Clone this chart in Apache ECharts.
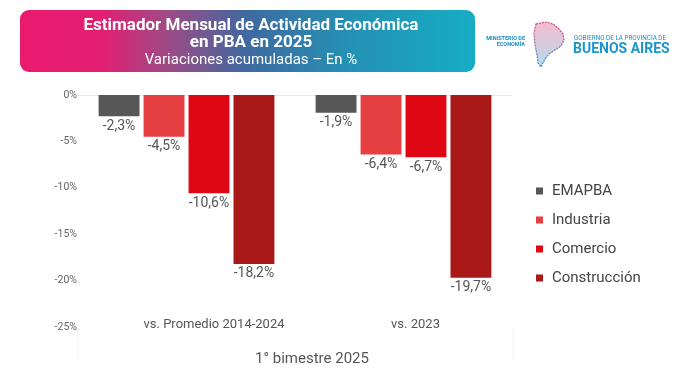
<!DOCTYPE html>
<html>
<head>
<meta charset="utf-8">
<script src="https://cdn.jsdelivr.net/npm/echarts@6/dist/echarts.min.js"></script>
<style>html,body{margin:0;padding:0;background:#fff}#c{width:680px;height:380px}</style>
</head>
<body>
<div id="c"></div>
<script>
var categories = ['vs. Promedio 2014-2024', 'vs. 2023'];
var seriesNames = ['EMAPBA', 'Industria', 'Comercio', 'Construcción'];
var emapba = [-2.3, -1.9];
var industria = [-4.5, -6.4];
var comercio = [-10.6, -6.7];
var construccion = [-18.2, -19.7];
var yTicks = [0, -5, -10, -15, -20, -25];

var colors = ['#575757', '#e63f41', '#e00715', '#a81917'];
var values = [emapba, industria, comercio, construccion];
var FONT = 'Roboto';

var chart = echarts.init(document.getElementById('c'), null, {renderer: 'canvas'});

function fmt(v) { return v.toFixed(1).replace('.', ',') + '%'; }

var series = seriesNames.map(function (n, i) {
  return {
    name: n,
    type: 'bar',
    data: values[i],
    barGap: '10%',
    barCategoryGap: '19%',
    itemStyle: {color: colors[i]},
    label: {
      show: true, position: 'bottom', distance: 3,
      color: '#555', fontSize: 14, fontFamily: FONT,
      formatter: function (p) { return fmt(p.value); }
    }
  };
});

var catPads = [[0, 0, 0, 55], [0, 0, 0, 24]];

chart.setOption({
  animation: false,
  backgroundColor: '#fff',
  grid: {left: 78, right: 168, top: 95, bottom: 53, containLabel: false},
  legend: {
    orient: 'vertical', left: 531, top: 178,
    icon: 'rect', itemWidth: 7, itemHeight: 7, itemGap: 13,
    textStyle: {color: '#444', fontSize: 15, fontFamily: FONT, lineHeight: 16, padding: [0, 0, 0, 4]},
    data: seriesNames
  },
  xAxis: [{
    type: 'category',
    data: categories.map(function (c, i) { return {value: c, textStyle: {padding: catPads[i]}}; }),
    position: 'bottom',
    axisLine: {show: false, onZero: false},
    axisTick: {show: false},
    axisLabel: {margin: -9, color: '#555', fontSize: 13, fontFamily: FONT}
  }, {
    type: 'category',
    data: categories,
    position: 'top',
    axisLine: {show: true, onZero: false, lineStyle: {color: '#e8e8e8', width: 1}},
    axisTick: {show: false},
    axisLabel: {show: false}
  }],
  yAxis: {
    type: 'value', min: -25, max: 0, interval: 5,
    axisLine: {show: false}, axisTick: {show: false},
    splitLine: {show: false},
    axisLabel: {
      margin: 1, color: '#666', fontSize: 10.5, fontFamily: FONT,
      formatter: function (v) { return yTicks.indexOf(v) >= 0 ? v + '%' : ''; }
    }
  },
  series: series,
  graphic: [
    {
      type: 'rect', shape: {x: 20, y: 10, width: 455, height: 62, r: 9},
      style: {fill: new echarts.graphic.LinearGradient(0, 0, 1, 0, [
        {offset: 0, color: '#ea1a6e'},
        {offset: 0.18, color: '#e21f72'},
        {offset: 0.32, color: '#a04a86'},
        {offset: 0.5, color: '#3e6aa0'},
        {offset: 0.72, color: '#2590b4'},
        {offset: 1, color: '#16adc4'}
      ])}
    },
    {type: 'text', x: 251, y: 26, style: {text: 'Estimador Mensual de Actividad Económica', fill: '#fff', font: 'bold 17px Roboto', align: 'center', verticalAlign: 'middle'}},
    {type: 'text', x: 251, y: 43, style: {text: 'en PBA en 2025', fill: '#fff', font: 'bold 17px Roboto', align: 'center', verticalAlign: 'middle'}},
    {type: 'text', x: 251, y: 60.5, style: {text: 'Variaciones acumuladas – En %', fill: '#fff', font: '15px Roboto', align: 'center', verticalAlign: 'middle'}},
    // logo
    {type: 'text', x: 525, y: 39, style: {text: 'MINISTERIO DE', fill: '#1b8fc0', font: 'bold 5.5px Roboto', align: 'right', verticalAlign: 'middle'}},
    {type: 'text', x: 525, y: 45, style: {text: 'ECONOMÍA', fill: '#1b8fc0', font: 'bold 5.5px Roboto', align: 'right', verticalAlign: 'middle'}},
    {
      type: 'polygon',
      shape: {points: [[536, 24], [546, 22], [553, 24], [558, 28], [563, 34], [564, 40], [561, 46], [555, 50], [549, 54], [545, 59], [541, 67], [538, 63], [537, 55], [535, 45], [534, 33]]},
      style: {
        fill: new echarts.graphic.LinearGradient(0, 0, 0, 1, [
          {offset: 0, color: 'rgba(232,60,120,0.35)'}, {offset: 1, color: 'rgba(40,150,200,0.35)'}
        ]),
        stroke: new echarts.graphic.LinearGradient(0, 0, 0, 1, [
          {offset: 0, color: '#e0407a'}, {offset: 1, color: '#2a97c8'}
        ]),
        lineWidth: 1.2, lineDash: [2, 1]
      }
    },
    {type: 'text', x: 574, y: 38.5, style: {text: 'GOBIERNO DE LA PROVINCIA DE', fill: '#1b8fc0', font: '6.3px Roboto', align: 'left', verticalAlign: 'middle'}},
    {type: 'text', x: 573, y: 49, style: {text: 'BUENOS AIRES', fill: '#1b95cc', font: 'bold 14px Roboto', align: 'left', verticalAlign: 'middle'}},
    // bottom group label and separators
    {type: 'line', shape: {x1: 78, y1: 328, x2: 78, y2: 360}, style: {stroke: '#f3f3f3', lineWidth: 1}},
    {type: 'line', shape: {x1: 513, y1: 328, x2: 513, y2: 360}, style: {stroke: '#f3f3f3', lineWidth: 1}},
    {type: 'text', x: 312, y: 359, style: {text: '1° bimestre 2025', fill: '#555', font: '15px Roboto', align: 'center', verticalAlign: 'middle'}}
  ]
});
</script>
</body>
</html>
